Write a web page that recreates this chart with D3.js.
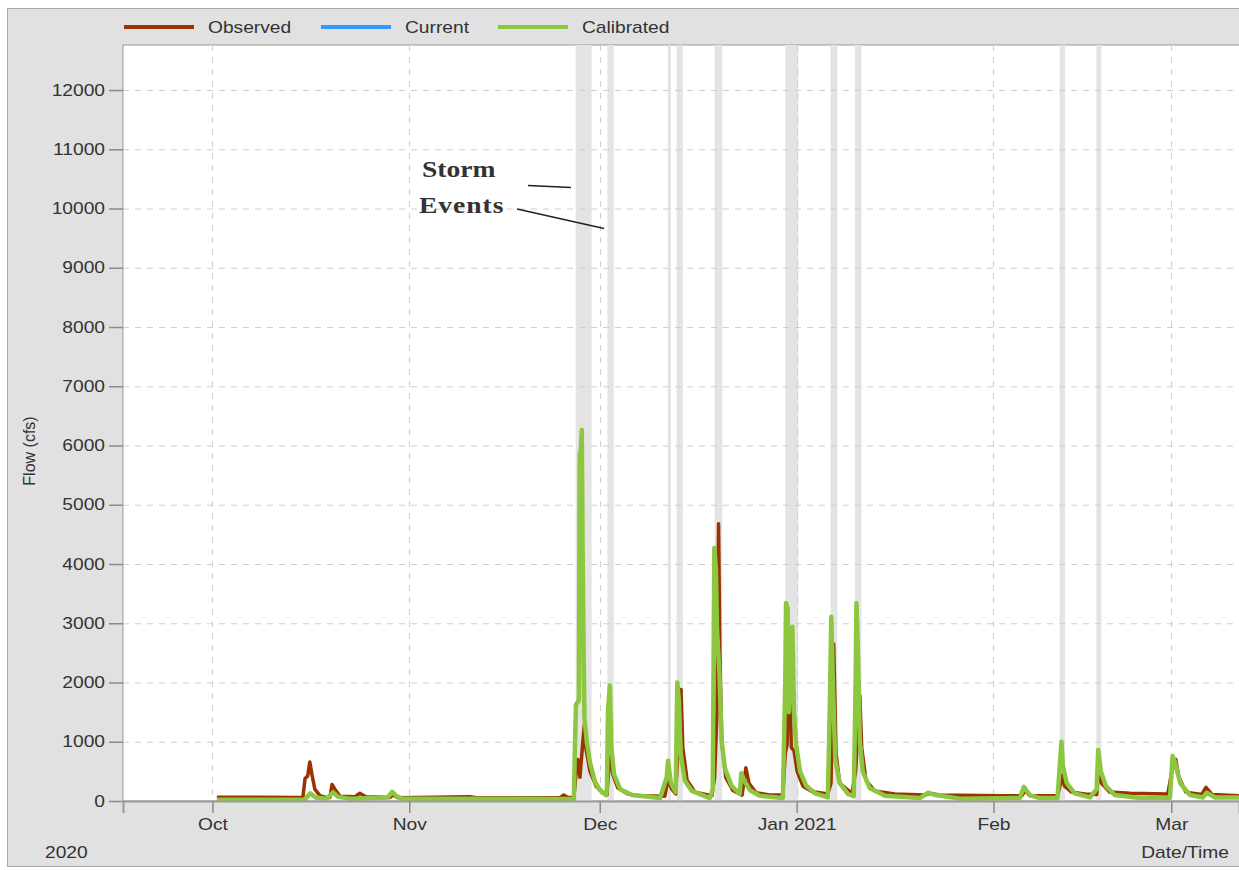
<!DOCTYPE html>
<html>
<head>
<meta charset="utf-8">
<script src="https://cdn.jsdelivr.net/npm/d3@7"></script>
<style>
  body { margin: 0; background: #fff; }
  text { font-family: "Liberation Sans", Arial, sans-serif; fill: #333; }
</style>
</head>
<body>
<div id="chart"></div>
<script>
// ---- data ----
const seriesNames = ["Observed", "Current", "Calibrated"];
const seriesColors = ["#993300", "#3399ff", "#8dc63f"];

const yTicks = [0, 1000, 2000, 3000, 4000, 5000, 6000, 7000, 8000, 9000, 10000, 11000, 12000];
const monthTicks = ["2020-10-01 00:00", "2020-11-01 00:00", "2020-12-01 00:00", "2021-01-01 00:00", "2021-02-01 00:00", "2021-03-01 00:00"];
const monthLabels = ["Oct", "Nov", "Dec", "Jan 2021", "Feb", "Mar"];

// shaded storm events [start, end]
const stormEvents = [
  ["2020-11-27 05:00", "2020-11-29 17:00"],
  ["2020-12-02 05:00", "2020-12-03 05:00"],
  ["2020-12-11 17:00", "2020-12-12 05:00"],
  ["2020-12-13 02:00", "2020-12-14 02:00"],
  ["2020-12-19 02:00", "2020-12-20 07:00"],
  ["2020-12-30 05:00", "2021-01-01 06:00"],
  ["2021-01-06 08:00", "2021-01-07 10:00"],
  ["2021-01-10 05:00", "2021-01-11 05:00"],
  ["2021-02-11 10:00", "2021-02-12 06:00"],
  ["2021-02-17 05:00", "2021-02-18 00:00"]
];

// observed flow (cfs)
const observed = [
  ["2020-10-01 17:00",65],["2020-10-15 06:00",60],["2020-10-15 14:00",380],["2020-10-16 00:00",420],["2020-10-16 08:00",660],
  ["2020-10-16 16:00",450],["2020-10-17 03:00",200],["2020-10-17 22:00",90],["2020-10-18 21:00",60],["2020-10-19 12:00",60],
  ["2020-10-19 20:00",280],["2020-10-20 07:00",200],["2020-10-21 02:00",80],["2020-10-23 10:00",70],["2020-10-24 05:00",130],
  ["2020-10-25 04:00",70],["2020-10-28 23:00",60],["2020-10-29 10:00",100],["2020-10-30 05:00",55],["2020-11-10 13:00",70],
  ["2020-11-11 13:00",55],["2020-11-24 17:00",55],["2020-11-25 08:00",100],["2020-11-26 00:00",60],["2020-11-26 22:00",60],
  ["2020-11-27 06:00",450],["2020-11-27 13:00",700],["2020-11-27 21:00",400],["2020-11-28 08:00",1000],["2020-11-28 14:00",1300],
  ["2020-11-28 19:00",900],["2020-11-29 11:00",500],["2020-11-30 10:00",250],["2020-12-01 16:00",120],["2020-12-02 03:00",100],
  ["2020-12-02 11:00",600],["2020-12-02 18:00",760],["2020-12-03 01:00",450],["2020-12-03 20:00",220],["2020-12-05 10:00",120],
  ["2020-12-07 07:00",90],["2020-12-11 06:00",80],["2020-12-11 17:00",350],["2020-12-12 08:00",200],["2020-12-12 23:00",120],
  ["2020-12-13 07:00",800],["2020-12-13 19:00",1880],["2020-12-14 02:00",900],["2020-12-14 18:00",350],["2020-12-16 00:00",150],
  ["2020-12-18 16:00",90],["2020-12-19 02:00",400],["2020-12-19 11:00",1500],["2020-12-19 17:00",4680],["2020-12-19 22:00",2500],
  ["2020-12-20 05:00",1000],["2020-12-20 20:00",400],["2020-12-21 23:00",180],["2020-12-23 10:00",100],["2020-12-24 00:00",560],
  ["2020-12-24 12:00",300],["2020-12-25 15:00",140],["2020-12-27 19:00",100],["2020-12-29 20:00",100],["2020-12-30 05:00",800],
  ["2020-12-30 12:00",950],["2020-12-30 19:00",2600],["2020-12-31 04:00",900],["2020-12-31 14:00",850],["2021-01-01 02:00",500],
  ["2021-01-02 00:00",250],["2021-01-03 10:00",160],["2021-01-05 22:00",120],["2021-01-06 10:00",300],["2021-01-06 20:00",2650],
  ["2021-01-07 05:00",800],["2021-01-07 19:00",300],["2021-01-09 17:00",130],["2021-01-10 07:00",500],["2021-01-10 23:00",1780],
  ["2021-01-11 06:00",900],["2021-01-11 22:00",350],["2021-01-13 07:00",170],["2021-01-16 11:00",120],["2021-01-21 05:00",100],
  ["2021-01-21 23:00",130],["2021-01-23 12:00",100],["2021-02-02 00:00",90],["2021-02-05 12:00",90],["2021-02-05 23:00",180],
  ["2021-02-06 17:00",90],["2021-02-11 02:00",90],["2021-02-11 14:00",300],["2021-02-11 18:00",440],["2021-02-12 05:00",250],
  ["2021-02-13 07:00",150],["2021-02-15 10:00",120],["2021-02-17 06:00",110],["2021-02-17 14:00",500],["2021-02-18 01:00",300],
  ["2021-02-19 07:00",150],["2021-02-22 12:00",130],["2021-02-28 11:00",120],["2021-03-01 02:00",500],["2021-03-01 17:00",700],
  ["2021-03-02 05:00",400],["2021-03-03 07:00",150],["2021-03-05 19:00",110],["2021-03-06 11:00",230],["2021-03-07 10:00",110],
  ["2021-03-11 19:00",90]
];

// calibrated model flow (cfs)
const calibrated = [
  ["2020-10-01 17:00",20],["2020-10-15 12:00",20],["2020-10-16 10:00",130],["2020-10-17 06:00",60],["2020-10-19 00:00",40],
  ["2020-10-20 00:00",145],["2020-10-20 19:00",70],["2020-10-22 16:00",40],["2020-10-28 15:00",60],["2020-10-29 07:00",155],
  ["2020-10-29 22:00",90],["2020-10-30 20:00",40],["2020-11-26 22:00",35],["2020-11-27 02:00",900],["2020-11-27 06:00",1620],
  ["2020-11-27 17:00",1700],["2020-11-27 20:00",5870],["2020-11-28 00:00",5900],["2020-11-28 04:00",6260],["2020-11-28 07:00",4300],
  ["2020-11-28 11:00",2500],["2020-11-28 14:00",1400],["2020-11-28 23:00",1000],["2020-11-29 11:00",650],["2020-11-30 06:00",320],
  ["2020-12-01 00:00",190],["2020-12-01 23:00",100],["2020-12-02 03:00",200],["2020-12-02 07:00",1500],["2020-12-02 14:00",1950],
  ["2020-12-02 20:00",900],["2020-12-03 06:00",450],["2020-12-04 05:00",200],["2020-12-06 02:00",100],["2020-12-10 12:00",50],
  ["2020-12-11 13:00",400],["2020-12-11 18:00",680],["2020-12-12 05:00",300],["2020-12-12 23:00",150],["2020-12-13 05:00",2000],
  ["2020-12-13 11:00",1700],["2020-12-13 18:00",800],["2020-12-14 09:00",350],["2020-12-15 12:00",170],["2020-12-18 08:00",50],
  ["2020-12-18 19:00",200],["2020-12-19 01:00",4270],["2020-12-19 07:00",3900],["2020-12-19 11:00",2900],["2020-12-19 20:00",2160],
  ["2020-12-20 05:00",1000],["2020-12-20 17:00",550],["2020-12-21 19:00",250],["2020-12-23 01:00",120],["2020-12-23 07:00",470],
  ["2020-12-23 17:00",350],["2020-12-24 16:00",180],["2020-12-26 05:00",90],["2020-12-29 20:00",50],["2020-12-30 05:00",2000],
  ["2020-12-30 08:00",3340],["2020-12-30 14:00",3250],["2020-12-30 19:00",1500],["2020-12-31 01:00",2400],["2020-12-31 08:00",2940],
  ["2020-12-31 14:00",1500],["2020-12-31 22:00",950],["2021-01-01 13:00",500],["2021-01-02 12:00",260],["2021-01-03 22:00",130],
  ["2021-01-05 22:00",60],["2021-01-06 05:00",1500],["2021-01-06 11:00",3110],["2021-01-06 17:00",2000],["2021-01-07 02:00",700],
  ["2021-01-07 19:00",300],["2021-01-09 02:00",120],["2021-01-10 00:00",80],["2021-01-10 07:00",2000],["2021-01-10 10:00",3340],
  ["2021-01-10 16:00",2500],["2021-01-10 23:00",1000],["2021-01-11 10:00",500],["2021-01-12 12:00",220],["2021-01-14 22:00",90],
  ["2021-01-20 10:00",50],["2021-01-21 17:00",140],["2021-01-22 20:00",100],["2021-01-26 17:00",40],["2021-02-05 04:00",50],
  ["2021-02-05 19:00",240],["2021-02-06 17:00",100],["2021-02-08 07:00",50],["2021-02-11 02:00",50],["2021-02-11 17:00",1000],
  ["2021-02-11 22:00",600],["2021-02-12 13:00",300],["2021-02-13 19:00",130],["2021-02-16 05:00",60],["2021-02-17 06:00",200],
  ["2021-02-17 12:00",860],["2021-02-17 22:00",500],["2021-02-18 17:00",250],["2021-02-20 03:00",100],["2021-02-24 02:00",50],
  ["2021-02-28 19:00",50],["2021-03-01 05:00",760],["2021-03-01 14:00",650],["2021-03-02 10:00",300],["2021-03-03 23:00",100],
  ["2021-03-06 00:00",60],["2021-03-06 14:00",140],["2021-03-07 22:00",60],["2021-03-11 19:00",60]
];

// ---- layout ----
const width = 1239, height = 870;
const margin = { top: 45, left: 123, right: 0, bottom: 69 };
const stretch = "scale(1.2,1)"; // the source picture is widened horizontally

const parseTime = d3.timeParse("%Y-%m-%d %H:%M");

const svg = d3.select("#chart")
    .append("svg")
    .attr("width", width)
    .attr("height", height);

const xScale = d3.scaleTime()
    .domain([parseTime("2020-09-16 22:00"), parseTime("2021-03-11 16:00")])
    .range([margin.left, width - margin.right]);

const yScale = d3.scaleLinear()
    .domain([0, 12760])
    .range([height - margin.bottom, margin.top]);

// outer grey panel
svg.append("rect")
    .attr("x", 7.5).attr("y", 8.5)
    .attr("width", width + 10).attr("height", 858)
    .attr("fill", "#e1e1e1")
    .attr("stroke", "#a8a8a8");

// plot area
svg.append("rect")
    .attr("x", margin.left).attr("y", margin.top)
    .attr("width", width - margin.left + 5)
    .attr("height", height - margin.bottom - margin.top)
    .attr("fill", "#fff")
    .attr("stroke", "#9a9a9a");

svg.append("clipPath").attr("id", "plotClip")
    .append("rect")
    .attr("x", margin.left).attr("y", margin.top)
    .attr("width", width - margin.left)
    .attr("height", height - margin.bottom - margin.top);

const plot = svg.append("g").attr("clip-path", "url(#plotClip)");

// storm event bands
plot.selectAll("rect.storm")
    .data(stormEvents)
    .enter()
    .append("rect")
    .attr("class", "storm")
    .attr("x", d => xScale(parseTime(d[0])))
    .attr("width", d => xScale(parseTime(d[1])) - xScale(parseTime(d[0])))
    .attr("y", margin.top)
    .attr("height", height - margin.bottom - margin.top)
    .attr("fill", "#e4e4e4");

// grid
plot.selectAll("line.hgrid")
    .data(yTicks.slice(1))
    .enter()
    .append("line")
    .attr("x1", margin.left).attr("x2", width)
    .attr("y1", d => yScale(d) + 0.5).attr("y2", d => yScale(d) + 0.5)
    .attr("stroke", "#cfcfcf")
    .attr("stroke-dasharray", "6,6");

plot.selectAll("line.vgrid")
    .data(monthTicks)
    .enter()
    .append("line")
    .attr("x1", d => Math.round(xScale(parseTime(d))) + 0.5)
    .attr("x2", d => Math.round(xScale(parseTime(d))) + 0.5)
    .attr("y1", margin.top).attr("y2", height - margin.bottom)
    .attr("stroke", "#cfcfcf")
    .attr("stroke-dasharray", "6,6");

// series lines
const line = d3.line()
    .x(d => xScale(parseTime(d[0])))
    .y(d => yScale(d[1]));

plot.append("path")
    .datum(observed)
    .attr("fill", "none")
    .attr("stroke", seriesColors[0])
    .attr("stroke-width", 3.5)
    .attr("stroke-linejoin", "round")
    .attr("d", line);

plot.append("path")
    .datum(calibrated)
    .attr("fill", "none")
    .attr("stroke", seriesColors[2])
    .attr("stroke-width", 4.5)
    .attr("stroke-linejoin", "round")
    .attr("d", line);

// axes
const yAxis = svg.append("g")
    .attr("transform", `translate(${margin.left},0)`)
    .call(d3.axisLeft(yScale).tickValues(yTicks).tickFormat(d3.format("d")).tickSize(14).tickPadding(1));
yAxis.select(".domain").remove();
yAxis.selectAll(".tick line").attr("stroke", "#8a8a8a").attr("stroke-width", 1.5);
yAxis.selectAll(".tick text")
    .attr("font-size", 16)
    .attr("fill", "#333")
    .attr("transform", stretch);

const xAxis = svg.append("g")
    .attr("transform", `translate(0,${height - margin.bottom})`)
    .call(d3.axisBottom(xScale)
        .tickValues(monthTicks.map(parseTime))
        .tickFormat((d, i) => monthLabels[i])
        .tickSize(12)
        .tickPadding(6));
xAxis.select(".domain").attr("stroke", "#9a9a9a").attr("stroke-width", 2);
xAxis.selectAll(".tick line").attr("stroke", "#8a8a8a").attr("stroke-width", 1.5);
xAxis.selectAll(".tick text")
    .attr("font-size", 16)
    .attr("fill", "#333")
    .attr("transform", stretch);

// axis labels
svg.append("text")
    .attr("transform", "translate(35,451) rotate(-90)")
    .attr("text-anchor", "middle")
    .attr("font-size", 16)
    .text("Flow (cfs)");

svg.append("text")
    .attr("transform", `translate(45,858) ${stretch}`)
    .attr("font-size", 16)
    .text("2020");

svg.append("text")
    .attr("transform", `translate(1229,858) ${stretch}`)
    .attr("text-anchor", "end")
    .attr("font-size", 16)
    .text("Date/Time");

// legend
const legendX = [124, 321, 498];
const legend = svg.selectAll("g.legend")
    .data(seriesNames)
    .enter()
    .append("g")
    .attr("transform", (d, i) => `translate(${legendX[i]},27)`);

legend.append("line")
    .attr("x1", 0).attr("x2", 70)
    .attr("stroke", (d, i) => seriesColors[i])
    .attr("stroke-width", 4);

legend.append("text")
    .attr("transform", `translate(84,6) ${stretch}`)
    .attr("font-size", 16)
    .text(d => d);

// storm events annotation
const note = svg.append("g");

note.append("text")
    .attr("transform", `translate(422,177) ${stretch}`)
    .attr("font-size", 23)
    .attr("font-weight", "bold")
    .attr("fill", "#111")
    .style("font-family", "'Liberation Serif', 'Times New Roman', serif")
    .text("Storm");

note.append("text")
    .attr("transform", `translate(419,213) ${stretch}`)
    .attr("font-size", 23)
    .attr("font-weight", "bold")
    .attr("letter-spacing", 0.8)
    .attr("fill", "#111")
    .style("font-family", "'Liberation Serif', 'Times New Roman', serif")
    .text("Events");

note.append("line")
    .attr("x1", 528).attr("y1", 185.5)
    .attr("x2", 571).attr("y2", 187.5)
    .attr("stroke", "#222").attr("stroke-width", 1.5);

note.append("line")
    .attr("x1", 517).attr("y1", 209)
    .attr("x2", 604).attr("y2", 228.5)
    .attr("stroke", "#222").attr("stroke-width", 1.5);
</script>
</body>
</html>
